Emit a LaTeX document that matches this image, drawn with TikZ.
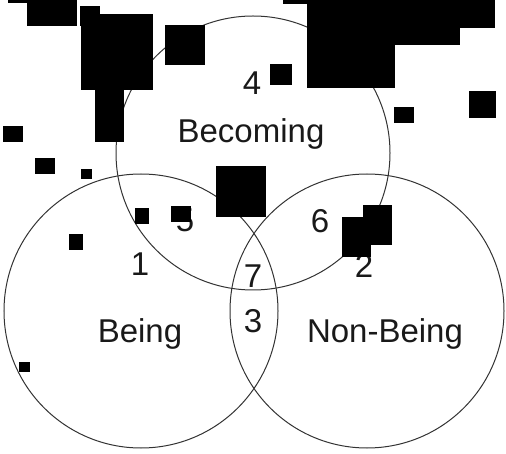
\documentclass[tikz,border=0pt]{standalone}
\usepackage{fontspec}
\setmainfont{Liberation Sans}
\usetikzlibrary{positioning}

\begin{document}
\begin{tikzpicture}[
  x=1pt, y=-1pt,
  set/.style={draw=black!80, line width=1pt},
  every node/.style={font=\fontsize{33}{38}\selectfont, text=black!90,
                     inner sep=0pt, anchor=base},
  blot/.style={fill=black}
]
\useasboundingbox (0,0) rectangle (506,454);

% the three sets
\draw[set] (253,153) circle[radius=137pt];
\draw[set] (141,311) circle[radius=137pt];
\draw[set] (367,311) circle[radius=137pt];

% set names
\node (becoming) at (251,143) {Becoming};
\node (being)    at (140,342) {Being};
\node (nonbeing) at (385,342) {Non-Being};

% region numbers
\node (r4) at (252,95)  {4};
\node (r5) at (185,232) {5};
\node (r6) at (320,233) {6};
\node (r1) at (140,276) {1};
\node (r2) at (364,278) {2};
\node (r7) at (253,288) {7};
\node (r3) at (253,332) {3};

% black blots
\fill[blot] (8,0) rectangle (77,3);
\fill[blot] (27,0) rectangle (77,26);
\fill[blot] (80,6) rectangle (100,26);
\fill[blot] (81,14) rectangle (153,90);
\fill[blot] (95,90) rectangle (124,142);
\fill[blot] (165,25) rectangle (205,65);
\fill[blot] (3,126) rectangle (23,142);
\fill[blot] (35,158) rectangle (55,174);
\fill[blot] (81,169) rectangle (92,179);
\fill[blot] (216,166) rectangle (266,217);
\fill[blot] (135,208) rectangle (149,224);
\fill[blot] (171,206) rectangle (191,222);
\fill[blot] (69,234) rectangle (83,250);
\fill[blot] (283,0) rectangle (495,4);
\fill[blot] (307,0) rectangle (495,28);
\fill[blot] (307,28) rectangle (460,45);
\fill[blot] (307,45) rectangle (395,88);
\fill[blot] (270,64) rectangle (292,85);
\fill[blot] (394,107) rectangle (414,123);
\fill[blot] (469,91) rectangle (496,118);
\fill[blot] (363,205) rectangle (392,245);
\fill[blot] (342,217) rectangle (371,257);
\fill[blot] (19,362) rectangle (30,372);
\end{tikzpicture}
\end{document}
